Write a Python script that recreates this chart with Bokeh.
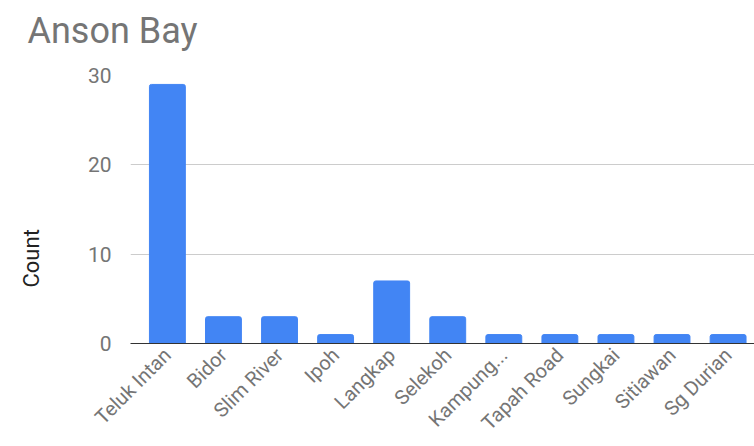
import math
from bokeh.plotting import figure
from bokeh.models import Range1d, FixedTicker, Title
from bokeh.embed import file_html
from bokeh.resources import INLINE

categories = ["Teluk Intan", "Bidor", "Slim River", "Ipoh", "Langkap", "Selekoh",
              "Kampung...", "Tapah Road", "Sungkai", "Sitiawan", "Sg Durian"]
counts = [29, 3, 3, 1, 7, 3, 1, 1, 1, 1, 1]
y_ticks = [0, 10, 20, 30]

positions = list(range(len(categories)))

X0, X1 = -0.658, 10.471
p = figure(width=754, height=446, x_range=Range1d(X0, X1),
           y_range=Range1d(0, 30), output_backend="svg", toolbar_location=None,
           min_border_left=128, min_border_right=0, min_border_top=75,
           min_border_bottom=103)

# spacer titles (inner) so the real titles sit further out
p.add_layout(Title(text=" ", text_font_size="8px", standoff=6), "above")
p.add_layout(Title(text="Anson Bay", text_font="Roboto", text_font_size="36px",
                   text_color="#757575", text_font_style="normal", offset=-103,
                   vertical_align="top", standoff=10), "above")
p.add_layout(Title(text=" ", text_font_size="8px", standoff=10), "left")
p.add_layout(Title(text="Count", text_font="Roboto", text_font_size="22px",
                   text_color="#222222", text_font_style="normal", align="left",
                   vertical_align="top", offset=56, standoff=36), "left")

p.vbar(x=positions, top=counts, width=0.64, color="#4285F4", border_radius=[2, 2, 0, 0])

p.outline_line_color = None
p.xgrid.grid_line_color = None
p.ygrid.grid_line_color = "#cccccc"
p.ygrid.ticker = FixedTicker(ticks=y_ticks)

ya = p.yaxis[0]
ya.ticker = FixedTicker(ticks=y_ticks)
ya.axis_line_color = None
ya.major_tick_line_color = None
ya.minor_tick_line_color = None
ya.major_label_text_font = "Roboto"
ya.major_label_text_font_size = "21px"
ya.major_label_text_color = "#757575"
ya.major_label_standoff = 13

xa = p.xaxis[0]
xa.ticker = FixedTicker(ticks=positions)
xa.major_label_overrides = {i: c for i, c in zip(positions, categories)}
xa.axis_line_color = "#333333"
xa.major_tick_line_color = None
xa.minor_tick_line_color = None
xa.major_label_orientation = math.pi / 4
xa.major_label_text_font = "Roboto"
xa.major_label_text_font_size = "20px"
xa.major_label_text_color = "#757575"
xa.major_label_standoff = 2

open("out.html", "w").write(file_html(p, INLINE))
